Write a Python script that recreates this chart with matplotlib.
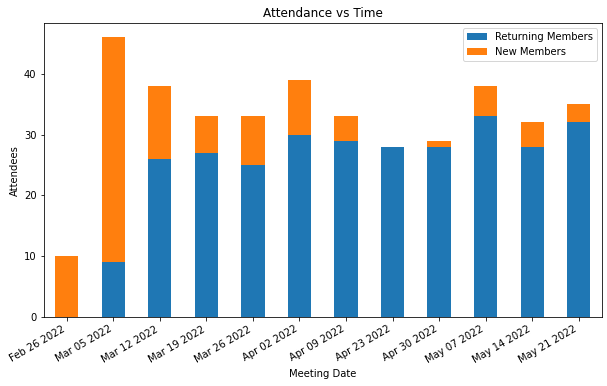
import matplotlib
matplotlib.use("Agg")
import matplotlib.pyplot as plt
import numpy as np

dates = ["Feb 26 2022", "Mar 05 2022", "Mar 12 2022", "Mar 19 2022", "Mar 26 2022",
         "Apr 02 2022", "Apr 09 2022", "Apr 23 2022", "Apr 30 2022", "May 07 2022",
         "May 14 2022", "May 21 2022"]
returning = [0, 9, 26, 27, 25, 30, 29, 28, 28, 33, 28, 32]
new = [10, 37, 12, 6, 8, 9, 4, 0, 1, 5, 4, 3]

W, H, DPI = 607, 386, 72
fig = plt.figure(figsize=(W / DPI, H / DPI), dpi=DPI)
ax = fig.add_axes([43.5 / W, 1 - 317 / H, (602 - 43.5) / W, (317 - 23.3) / H])
x = np.arange(len(dates))
ax.bar(x, returning, width=0.5, color="#1f77b4", label="Returning Members")
ax.bar(x, new, width=0.5, bottom=returning, color="#ff7f0e", label="New Members")
ax.set_xlim(-0.5, len(dates) - 0.5)
ax.set_xticks(x)
ax.set_xticklabels(dates, rotation=30, ha="right")
ax.set_xlabel("Meeting Date")
ax.set_ylabel("Attendees")
ax.set_title("Attendance vs Time")
ax.legend(loc="upper right")
fig.savefig("out.png", dpi=DPI)
